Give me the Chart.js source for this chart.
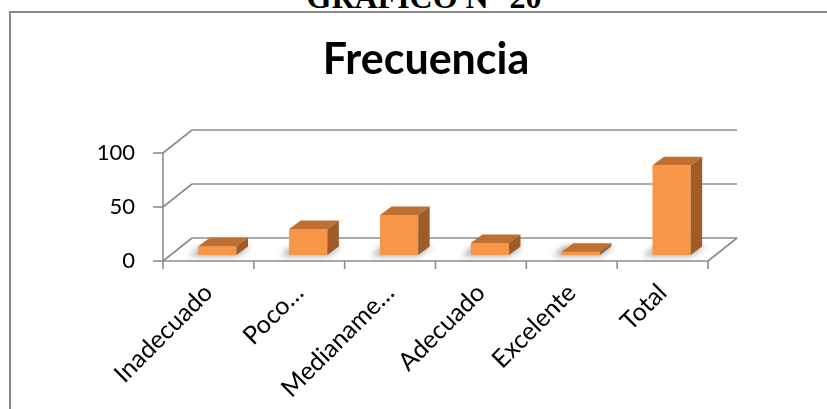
<!DOCTYPE html>
<html><head><meta charset="utf-8">
<script src="https://cdn.jsdelivr.net/npm/chart.js@4/dist/chart.umd.min.js"></script>
<style>
html,body{margin:0;padding:0;background:#fff;width:827px;height:409px;overflow:hidden;}
#hdr{position:absolute;left:0;top:-19px;width:848px;text-align:center;font:bold 32px "Liberation Serif";line-height:32px;color:#000;white-space:nowrap;}
#frame{position:absolute;left:9px;top:11px;width:900px;height:500px;border-left:2px solid #8c8c8c;border-top:2px solid #8c8c8c;}
#c{position:absolute;left:0;top:0;}
</style></head><body>
<div id="hdr">GRÁFICO N° 20</div>
<div id="frame"></div>
<canvas id="c" width="827" height="409"></canvas>
<script>
const titleText = 'Frecuencia';
const categories = ['Inadecuado', 'Poco…', 'Medianame…', 'Adecuado', 'Excelente', 'Total'];
const frecuencia = [8, 24, 37, 11, 3, 83];
const yTicks = [0, 50, 100];

const DEPTH_X = 29, DEPTH_Y = -23;
const SX = 9, SY = -6;
const BDX = 11.5, BDY = -8.5;
const axisColor = '#8c8c8c';
const frontColor = '#F79646', topColor = '#BF7031', sideColor = '#A05C28';

const threeD = {
  id: 'threeD',
  beforeDatasetsDraw(chart) {
    const {ctx, chartArea: a, scales: {y}} = chart;
    ctx.save();
    ctx.strokeStyle = axisColor; ctx.lineWidth = 1.6;
    const y0 = y.getPixelForValue(0);
    const line = (x1, y1, x2, y2) => { ctx.beginPath(); ctx.moveTo(x1, y1); ctx.lineTo(x2, y2); ctx.stroke(); };
    yTicks.forEach(v => {
      const py = y.getPixelForValue(v);
      line(a.left - 10, py, a.left, py);
      line(a.left, py, a.left + DEPTH_X, py + DEPTH_Y);
      line(a.left + DEPTH_X, py + DEPTH_Y, a.right + DEPTH_X, py + DEPTH_Y);
    });
    line(a.left, y.getPixelForValue(yTicks[yTicks.length - 1]), a.left, y0);
    line(a.left, y0, a.right, y0);
    line(a.right, y0, a.right + DEPTH_X, y0 + DEPTH_Y);
    const n = categories.length;
    for (let i = 0; i <= n; i++) { const px = a.left + (a.right - a.left) * i / n; line(px, y0, px, y0 + 8); }
    const meta = chart.getDatasetMeta(0);
    ctx.filter = 'blur(3px)';
    ctx.fillStyle = 'rgba(0,0,0,0.35)';
    meta.data.forEach(bar => {
      const p = bar.getProps(['x', 'width', 'base'], true);
      const l = p.x - p.width / 2 + SX, r = p.x + p.width / 2 + SX, b = p.base + SY;
      ctx.beginPath();
      ctx.moveTo(l - 9, b + 1); ctx.lineTo(r, b + 1); ctx.lineTo(r + BDX + 3, b + BDY); ctx.lineTo(l + BDX - 9, b + BDY);
      ctx.closePath(); ctx.fill();
    });
    ctx.filter = 'none';
    ctx.restore();
    ctx.save();
    ctx.translate(SX, SY);
  },
  afterDatasetsDraw(chart) {
    const {ctx} = chart;
    ctx.restore();
    ctx.save();
    chart.getDatasetMeta(0).data.forEach(bar => {
      const p = bar.getProps(['x', 'y', 'width', 'base'], true);
      const l = p.x - p.width / 2 + SX, r = p.x + p.width / 2 + SX, t = p.y + SY, b = p.base + SY;
      ctx.fillStyle = topColor;
      ctx.beginPath(); ctx.moveTo(l, t); ctx.lineTo(l + BDX, t + BDY); ctx.lineTo(r + BDX, t + BDY); ctx.lineTo(r, t); ctx.closePath(); ctx.fill();
      ctx.fillStyle = sideColor;
      ctx.beginPath(); ctx.moveTo(r, t); ctx.lineTo(r + BDX, t + BDY); ctx.lineTo(r + BDX, b + BDY); ctx.lineTo(r, b); ctx.closePath(); ctx.fill();
    });
    ctx.restore();
  }
};

new Chart(document.getElementById('c'), {
  type: 'bar',
  data: {
    labels: categories,
    datasets: [{ label: titleText, data: frecuencia, backgroundColor: frontColor, borderWidth: 0,
      categoryPercentage: 1, barPercentage: 0.42, yAxisID: 'y' }]
  },
  options: {
    responsive: false,
    animation: false,
    layout: { padding: { left: 25, right: 0, top: 0, bottom: 0 } },
    plugins: {
      legend: { display: false },
      tooltip: { enabled: false },
      title: { display: true, text: titleText, color: '#000',
        font: { family: 'Lato', size: 43, weight: 'bold', lineHeight: 1.2 },
        padding: { top: 34.6, bottom: 66.8 } }
    },
    scales: {
      x: {
        afterFit(s) { s.height = 148; },
        grid: { display: false, drawTicks: false }, border: { display: false },
        ticks: { autoSkip: false, minRotation: 45, maxRotation: 45, padding: 17, labelOffset: 0, color: '#000',
          font: { family: 'Lato', size: 25 } }
      },
      y: {
        position: 'left',
        min: 0, max: 100,
        afterFit(s) { s.width = 138; },
        afterBuildTicks(s) { s.ticks = yTicks.map(v => ({ value: v })); },
        grid: { display: false, drawTicks: false }, border: { display: false },
        ticks: { padding: 28, color: '#000', font: { family: 'Lato', size: 22 } }
      },
      yRight: {
        position: 'right', display: true,
        afterFit(s) { s.width = 119; },
        grid: { display: false, drawTicks: false }, border: { display: false },
        ticks: { display: false }
      }
    }
  },
  plugins: [threeD]
});
</script>
</body></html>
